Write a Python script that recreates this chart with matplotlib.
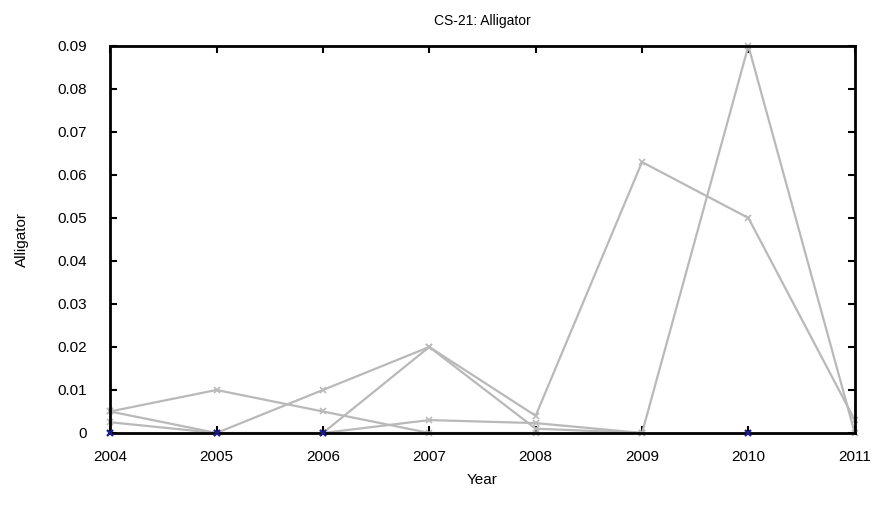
import numpy as np
import matplotlib
matplotlib.use("Agg")
from matplotlib import pyplot as plt

plt.rcParams['font.family'] = ['Liberation Sans', 'DejaVu Sans']

years = [2004, 2005, 2006, 2007, 2008, 2009, 2010, 2011]
nan = np.nan
# gray site series
s1 = [0.005, 0.010, 0.005, 0.0, 0.0, nan, nan, nan]
s2 = [0.005, 0.0, 0.010, 0.020, 0.004, 0.063, 0.050, 0.003]
s3 = [nan, nan, 0.0, 0.020, 0.001, 0.0, 0.090, 0.0]
s4 = [0.0025, 0.0, 0.0, 0.003, 0.0023, 0.0, nan, nan]
# blue series (zeros only)
s_blue = [0.0, 0.0, 0.0, nan, nan, nan, 0.0, nan]

yticks = [0, 0.01, 0.02, 0.03, 0.04, 0.05, 0.06, 0.07, 0.08, 0.09]
ytick_labels = ['0', '0.01', '0.02', '0.03', '0.04', '0.05', '0.06', '0.07', '0.08', '0.09']

fig = plt.figure(figsize=(8.74, 5.05), dpi=100)
ax = fig.add_axes([0.126, 0.1426, 0.852, 0.7664])

gray = '#b9b9b9'
for s in [s1, s2, s3, s4]:
    ax.plot(years, s, color=gray, lw=1.6, marker='x', ms=4, mew=1.2, clip_on=False, zorder=2)
ax.plot(years, s_blue, color='#1a1a8c', lw=0, marker='x', ms=5, mew=1.6, clip_on=False, zorder=4)

ax.set_xlim(2004, 2011)
ax.set_ylim(0, 0.09)
ax.set_xticks(years)
ax.set_xticklabels([str(y) for y in years], fontsize=11)
ax.set_yticks(yticks)
ax.set_yticklabels(ytick_labels, fontsize=11)
ax.tick_params(direction='in', top=True, right=True, length=5, width=1.5)
ax.tick_params(axis='x', pad=12)
ax.tick_params(axis='y', pad=17)
for sp in ax.spines.values():
    sp.set_linewidth(2)
    sp.set_zorder(3)

ax.set_title('CS-21: Alligator', fontsize=10, pad=15)
ax.set_xlabel('Year', fontsize=11, labelpad=7)
ax.set_ylabel('Alligator', fontsize=11, labelpad=20)

fig.savefig('out.png', dpi=100)
